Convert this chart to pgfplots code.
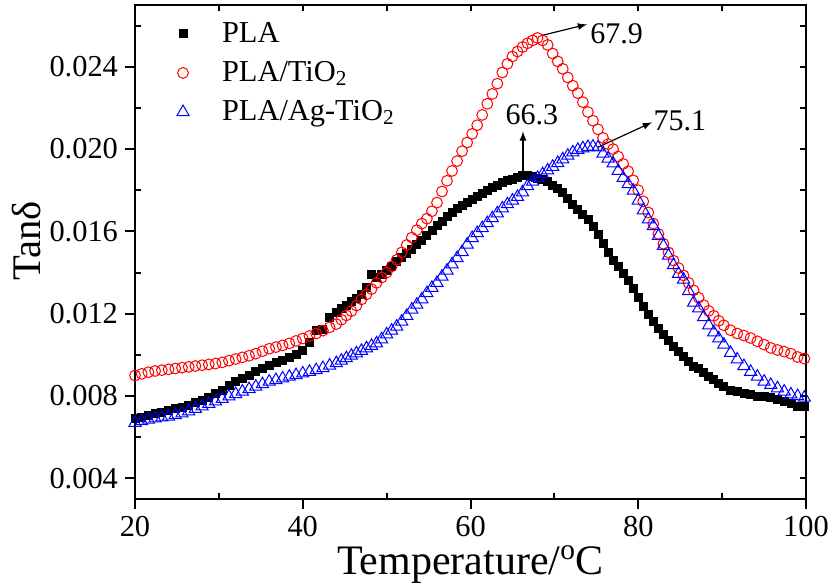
\documentclass[border=0pt]{standalone}
\usepackage{pgfplots}
\pgfplotsset{compat=1.18}
\usepackage{pgfplotstable}
\usepackage{fontspec}
\setmainfont{Liberation Serif}

\pgfplotstableread{
T pla tio ag
20 0.00690 0.00900 0.00670
20.8 0.00698 0.00908 0.00678
21.6 0.00708 0.00916 0.00686
22.4 0.00714 0.00922 0.00692
23.2 0.00722 0.00926 0.00696
24 0.00730 0.00930 0.00700
24.8 0.00738 0.00934 0.00708
25.6 0.00746 0.00938 0.00716
26.4 0.00756 0.00942 0.00726
27.2 0.00768 0.00946 0.00738
28 0.00780 0.00950 0.00750
28.8 0.00796 0.00954 0.00762
29.6 0.00812 0.00958 0.00774
30.4 0.00830 0.00964 0.00786
31.2 0.00850 0.00972 0.00798
32 0.00870 0.00980 0.00810
32.8 0.00886 0.00988 0.00822
33.6 0.00902 0.00996 0.00834
34.4 0.00918 0.01006 0.00846
35.2 0.00934 0.01018 0.00858
36 0.00950 0.01030 0.00870
36.8 0.00962 0.01038 0.00878
37.6 0.00974 0.01046 0.00886
38.4 0.00988 0.01056 0.00894
39.2 0.01004 0.01068 0.00902
40 0.01020 0.01080 0.00910
40.8 0.01060 0.01092 0.00918
41.6 0.01120 0.01104 0.00926
42.4 0.01125 0.01118 0.00936
43.2 0.01180 0.01134 0.00948
44 0.01205 0.01150 0.00960
44.6 0.01225 0.01171 0.00972
45.2 0.01243 0.01192 0.00984
45.8 0.01261 0.01213 0.00996
46.4 0.01277 0.01240 0.01008
47.0 0.01293 0.01270 0.01020
47.6 0.01330 0.01294 0.01032
48.2 0.01390 0.01320 0.01044
48.8 0.01375 0.01350 0.01056
49.4 0.01392 0.01376 0.01076
50.0 0.01410 0.01400 0.01100
50.6 0.01431 0.01430 0.01118
51.2 0.01452 0.01462 0.01138
51.8 0.01473 0.01498 0.01162
52.4 0.01494 0.01534 0.01190
53.0 0.01515 0.01570 0.01220
53.6 0.01536 0.01606 0.01244
54.2 0.01558 0.01638 0.01270
54.8 0.01582 0.01662 0.01300
55.4 0.01606 0.01698 0.01326
56.0 0.01630 0.01740 0.01350
56.6 0.01651 0.01794 0.01380
57.2 0.01672 0.01846 0.01410
57.8 0.01693 0.01894 0.01440
58.4 0.01710 0.01942 0.01470
59.0 0.01725 0.01990 0.01500
59.6 0.01740 0.02032 0.01536
60.2 0.01755 0.02074 0.01568
60.8 0.01770 0.02116 0.01592
61.4 0.01785 0.02166 0.01616
62.0 0.01800 0.02220 0.01640
62.6 0.01812 0.02268 0.01664
63.2 0.01824 0.02318 0.01688
63.8 0.01836 0.02372 0.01712
64.4 0.01846 0.02414 0.01732
65.0 0.01855 0.02450 0.01750
65.6 0.01864 0.02474 0.01768
66.2 0.01870 0.02496 0.01790
66.8 0.01870 0.02514 0.01820
67.4 0.01866 0.02528 0.01842
68.0 0.01860 0.02540 0.01860
68.6 0.01854 0.02528 0.01878
69.2 0.01844 0.02506 0.01896
69.8 0.01826 0.02464 0.01914
70.4 0.01808 0.02426 0.01932
71.0 0.01790 0.02390 0.01950
71.6 0.01760 0.02348 0.01968
72.2 0.01732 0.02308 0.01984
72.8 0.01708 0.02272 0.01996
73.4 0.01684 0.02228 0.02004
74.0 0.01660 0.02180 0.02010
74.6 0.01624 0.02138 0.02012
75.2 0.01586 0.02096 0.02008
75.8 0.01544 0.02054 0.01978
76.4 0.01496 0.02024 0.01954
77.0 0.01460 0.02000 0.01930
77.6 0.01430 0.01964 0.01894
78.2 0.01398 0.01928 0.01860
78.8 0.01362 0.01892 0.01830
79.4 0.01322 0.01848 0.01798
80.0 0.01280 0.01800 0.01750
80.6 0.01238 0.01746 0.01702
81.2 0.01198 0.01692 0.01658
81.8 0.01162 0.01638 0.01626
82.4 0.01130 0.01588 0.01578
83.0 0.01100 0.01540 0.01530
83.6 0.01070 0.01498 0.01482
84.2 0.01042 0.01458 0.01436
84.8 0.01018 0.01422 0.01394
85.4 0.00994 0.01386 0.01366
86.0 0.00970 0.01350 0.01310
86.6 0.00946 0.01314 0.01254
87.2 0.00934 0.01278 0.01226
87.8 0.00916 0.01242 0.01184
88.4 0.00898 0.01214 0.01144
89.0 0.00880 0.01190 0.01110
89.6 0.00862 0.01166 0.01080
90.2 0.00846 0.01144 0.01050
91 0.00830 0.01120 0.01010
91.8 0.00822 0.01104 0.00978
92.6 0.00814 0.01094 0.00946
93.4 0.00806 0.01082 0.00918
94.2 0.00800 0.01066 0.00894
95 0.00800 0.01050 0.00870
95.8 0.00792 0.01034 0.00854
96.6 0.00784 0.01024 0.00838
97.4 0.00776 0.01016 0.00822
98.2 0.00766 0.01006 0.00808
99 0.00750 0.00990 0.00800
99.8 0.00750 0.00982 0.00792
}\datatable

\begin{document}
\begin{tikzpicture}
\pgfplotsset{
  frame/.style={
    scale only axis, width=335.5pt, height=247pt,
    xmin=20, xmax=100, ymin=0.003, ymax=0.027,
    axis line style={line width=1pt},
    tick style={line width=1pt, black},
  }
}
% inner ticks (minor, bottom/left)
\begin{axis}[frame,
  xtick={30,50,70,90}, ytick={0.006,0.010,0.014,0.018,0.022,0.026},
  xticklabels={}, yticklabels={},
  xtick pos=bottom, ytick pos=left, tick align=inside,
  major tick length=3pt]
\end{axis}
% inner ticks top/right
\begin{axis}[frame,
  xtick={30,40,50,60,70,80,90},
  ytick={0.004,0.006,0.008,0.010,0.012,0.014,0.016,0.018,0.020,0.022,0.024,0.026},
  xticklabels={}, yticklabels={},
  xtick pos=top, ytick pos=right, tick align=inside,
  major tick length=3pt]
\end{axis}
\begin{axis}[frame, name=ax,
  xtick={20,40,60,80,100},
  ytick={0.004,0.008,0.012,0.016,0.020,0.024},
  xtick pos=bottom, ytick pos=left, tick align=outside,
  major tick length=5pt,
  scaled y ticks=false,
  ticklabel style={font=\fontsize{15.2}{18}\selectfont},
  xticklabel style={/pgf/number format/assume math mode=true},
  yticklabel style={/pgf/number format/.cd, fixed, fixed zerofill, precision=3, assume math mode=true},
  legend cell align=left,
  legend style={draw=none, fill=none, at={(axis description cs:0.053,0.982)}, anchor=north west,
    font=\fontsize{15.2}{18}\selectfont, column sep=14.5pt, row sep=4pt},
  clip=true,
]
\coordinate (SW) at (rel axis cs:0,0);
\coordinate (NE) at (rel axis cs:1,1);
\coordinate (XL) at (axis description cs:0.5,-0.1538);
\coordinate (YL) at (axis description cs:-0.161,0.522);
\addplot[only marks, mark=square*, mark size=2pt, black] table[x=T,y=pla] {\datatable};
\addlegendentry{PLA}
\addplot[only marks, mark=o, mark size=2.7pt, red, line width=0.5pt] table[x=T,y=tio] {\datatable};
\addlegendentry{PLA/TiO\textsubscript{2}}
\addplot[only marks, mark=triangle, mark size=3.5pt, blue, line width=0.5pt] table[x=T,y=ag] {\datatable};
\addlegendentry{PLA/Ag-TiO\textsubscript{2}}

\draw[-latex, line width=0.6pt] (axis cs:68.5,0.02552) -- (axis cs:73.9,0.02606);
\node[anchor=west, inner sep=0pt, font=\fontsize{15}{18}\selectfont] at (axis cs:74.25,0.02562) {67.9};
\draw[-latex, line width=0.6pt] (axis cs:66.26,0.01882) -- (axis cs:66.26,0.02086);
\node[anchor=center, inner sep=0pt, font=\fontsize{15}{18}\selectfont] at (axis cs:67.33,0.02169) {66.3};
\draw[-latex, line width=0.6pt] (axis cs:75.2,0.02009) -- (axis cs:81.64,0.0213);
\node[anchor=west, inner sep=0pt, font=\fontsize{15}{18}\selectfont] at (axis cs:81.8,0.02135) {75.1};
\end{axis}
\node[anchor=base, font=\fontsize{21}{25}\selectfont] at (XL) {Temperature/\textsuperscript{o}C};
\node[anchor=center, rotate=90, inner sep=0pt, font=\fontsize{20.3}{24}\selectfont] at (YL) {Tanδ};
\pgfresetboundingbox
\useasboundingbox ([xshift=-67.5pt,yshift=-43pt]SW) rectangle ([xshift=12pt,yshift=2.5pt]NE);
\end{tikzpicture}
\end{document}
